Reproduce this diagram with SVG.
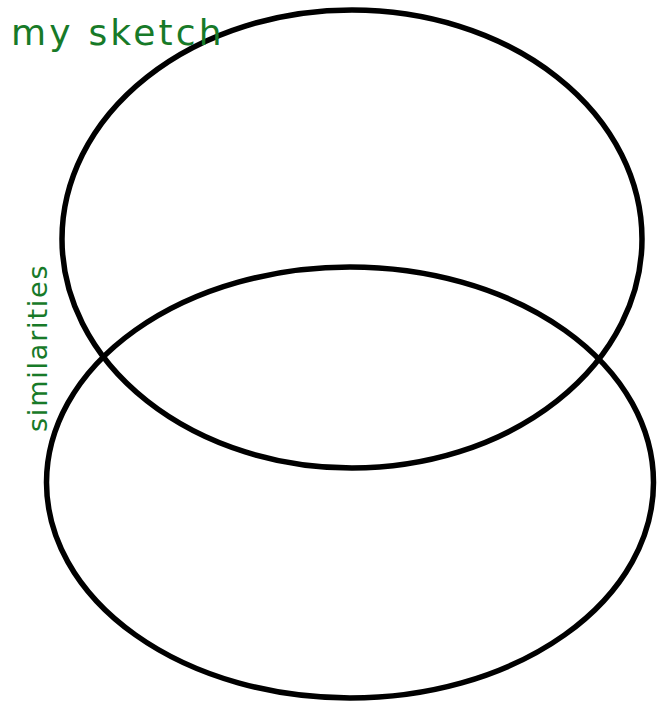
<svg xmlns="http://www.w3.org/2000/svg" width="657" height="702" viewBox="0 0 657 702">
<style>
.c{fill:none;stroke:#000;stroke-width:5.5}
.t{font-family:"DejaVu Sans",sans-serif;fill:#177a28}
</style>
<rect width="657" height="702" fill="#fff"/>
<g id="circle-top"><ellipse class="c" cx="352" cy="239" rx="290" ry="229"/></g>
<g id="circle-bottom"><ellipse class="c" cx="350" cy="482.5" rx="303.5" ry="215.5"/></g>
<g id="title"><text class="t" x="11" y="45" font-size="36" letter-spacing="3.2">my sketch</text></g>
<g id="label"><text class="t" transform="translate(47,432) rotate(-90)" font-size="27" letter-spacing="1.8">similarities</text></g>
<g id="connectors"></g>
</svg>
